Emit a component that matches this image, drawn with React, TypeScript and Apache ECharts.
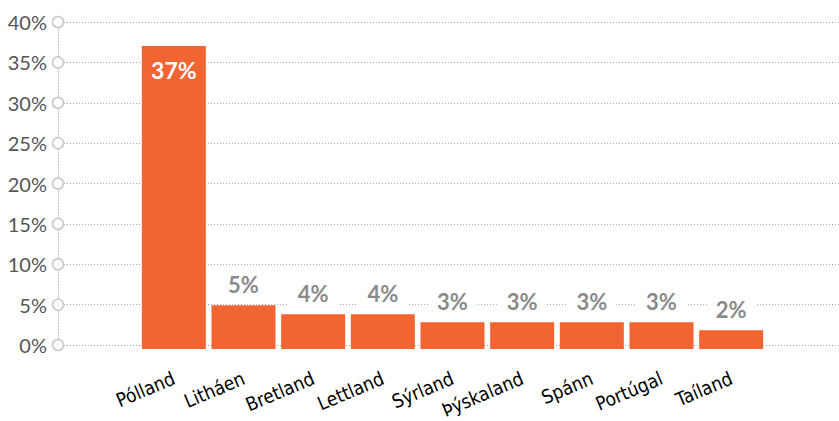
import React, { useEffect, useRef } from "react";
import * as echarts from "echarts";

const categories = ["Pólland", "Litháen", "Bretland", "Lettland", "Sýrland", "Þýskaland", "Spánn", "Portúgal", "Taíland"];
const values = [37.4, 5.4, 4.3, 4.3, 3.3, 3.3, 3.3, 3.3, 2.3];
const yTicks = [0, 5, 10, 15, 20, 25, 30, 35, 40];

export default function App() {
  const ref = useRef<HTMLDivElement>(null);
  useEffect(() => {
    if (!ref.current) return;
    const chart = echarts.init(ref.current, null, { renderer: "svg" });
    const orange = "#f26532";
    chart.setOption({
      animation: false,
      grid: [
        { left: 58, right: 0, top: 22, height: 323 },
        { left: 139, right: 73, top: 25, height: 324 },
      ],
      xAxis: [
        { type: "value", gridIndex: 0, min: 0, max: 1, show: false },
        {
          type: "category",
          gridIndex: 1,
          data: categories,
          axisLine: { show: false },
          axisTick: { show: false },
          axisLabel: {
            rotate: 23,
            margin: 28,
            interval: 0,
            fontFamily: "DejaVu Sans Condensed, Roboto, sans-serif",
            fontSize: 19,
            color: "#000",
          },
        },
      ],
      yAxis: [
        {
          type: "value",
          gridIndex: 0,
          min: 0,
          max: 40,
          interval: 5,
          axisLine: { show: true, lineStyle: { color: "#bbb", type: [1, 2], width: 1 } },
          axisTick: { show: false },
          axisLabel: {
            margin: 11,
            fontFamily: "Lato",
            fontSize: 20,
            color: "#555",
            formatter: (v: number) => v + "%",
          },
          splitLine: { show: true, lineStyle: { color: "#aaa", type: [1, 2], width: 1 } },
        },
        { type: "value", gridIndex: 1, min: 0, max: 40, show: false },
      ],
      series: [
        {
          type: "scatter",
          xAxisIndex: 0,
          yAxisIndex: 0,
          data: yTicks.map((t) => [0, t]),
          symbol: "circle",
          symbolSize: 11,
          clip: false,
          silent: true,
          itemStyle: { color: "#fff", borderColor: "#bbb", borderWidth: 1.5 },
          z: 5,
        },
        {
          type: "bar",
          xAxisIndex: 1,
          yAxisIndex: 1,
          barWidth: 64,
          data: values.map((v, i) =>
            i === 0
              ? {
                  value: v,
                  label: {
                    position: "insideTop",
                    distance: 12,
                    color: "#fff",
                    fontSize: 23,
                    backgroundColor: "transparent",
                    padding: 0,
                  },
                }
              : v
          ),
          itemStyle: { color: orange },
          label: {
            show: true,
            position: "top",
            distance: 8,
            fontFamily: "Lato",
            fontWeight: "bold",
            fontSize: 22,
            color: "#8a8a8a",
            backgroundColor: "#fff",
            padding: [2, 9],
            formatter: (p: any) => Math.round(p.value) + "%",
          },
        },
      ],
    });
    return () => chart.dispose();
  }, []);
  return (
    <div
      ref={ref}
      style={{ position: "fixed", left: 0, top: 0, width: 839, height: 421, background: "#fff" }}
    />
  );
}
